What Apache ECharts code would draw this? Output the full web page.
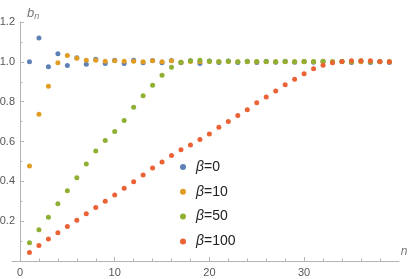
<!DOCTYPE html>
<html>
<head>
<meta charset="utf-8">
<script src="https://cdn.jsdelivr.net/npm/echarts@6/dist/echarts.min.js"></script>
<style>html,body{margin:0;padding:0;background:#fff}#c{width:415px;height:279px}</style>
</head>
<body>
<div id="c"></div>
<script>
var nValues = [];
for (var i = 1; i <= 39; i++) nValues.push(i);
var seriesNames = ['β=0', 'β=10', 'β=50', 'β=100'];
var beta0 = [1.0,1.12,0.975,1.04,0.982,1.02,0.988,1.013,0.992,1.008,0.992,1.008,0.995,1.007,0.996,1.007,0.996,1.005,0.992,1.004,0.997,1.004,0.997,1.003,0.997,1.003,0.998,1.003,0.998,1.002,0.998,1.002,0.998,1.002,0.997,1.002,0.997,1.001,0.997];
var beta10 = [0.477,0.737,0.878,0.995,1.032,1.018,1.008,1.008,1.003,1.006,1.003,1.003,1.0,1.005,1.0,1.005,0.998,1.002,1.0,1.002,1.001,1.002,1.0,1.001,1.0,1.001,1.0,1.001,1.0,1.001,1.0,1.001,1.0,1.001,1.0,1.001,1.0,1.001,1.0];
var beta50 = [0.092,0.157,0.22,0.287,0.353,0.418,0.487,0.552,0.605,0.65,0.705,0.772,0.83,0.882,0.933,0.973,0.998,1.005,1.008,1.003,1.002,1.003,1.0,1.002,1.002,1.002,1.0,1.002,1.0,1.002,1.002,1.003,1.0,1.002,1.0,1.005,1.0,1.002,1.0];
var beta100 = [0.043,0.078,0.11,0.142,0.173,0.205,0.237,0.268,0.3,0.332,0.365,0.398,0.432,0.467,0.497,0.53,0.558,0.583,0.61,0.638,0.671,0.7,0.73,0.76,0.795,0.823,0.853,0.885,0.913,0.94,0.965,0.983,0.995,1.002,1.005,1.005,1.005,1.002,1.0];
var colors = ['#5E81B5', '#E19C24', '#8FB032', '#EB6235'];
var xMajorTicks = [0, 10, 20, 30];
var xMinorTicks = [2,4,6,8,12,14,16,18,22,24,26,28,32,34,36,38];
var allData = [beta0, beta10, beta50, beta100];

function pairs(arr) { return arr.map(function (v, i) { return [nValues[i], v]; }); }

var axisGray = '#b4b4b4';
var labelColor = '#555';
var chart = echarts.init(document.getElementById('c'), null, {renderer: 'canvas'});
chart.setOption({
  animation: false,
  title: {
    text: '{b|b}{s|n}',
    left: 22, top: 1,
    textStyle: {
      fontWeight: 'normal',
      rich: {
        b: {fontFamily: 'Liberation Sans', fontStyle: 'italic', fontWeight: 'normal', fontSize: 13, color: '#777'},
        s: {fontFamily: 'Liberation Sans', fontStyle: 'italic', fontWeight: 'normal', fontSize: 9, color: '#777', verticalAlign: 'bottom', padding: [6, 0, 0, 0]}
      }
    }
  },
  legend: {
    orient: 'vertical',
    left: 175, top: 154,
    itemWidth: 12, itemHeight: 6, itemGap: 8.8,
    icon: 'circle',
    data: seriesNames,
    formatter: function (name) { return '{i|β}' + name.slice(1); },
    textStyle: {
      fontFamily: 'Liberation Sans', fontSize: 14, color: '#222', lineHeight: 16, padding: [0, 0, 0, 2],
      rich: { i: {fontFamily: 'Liberation Sans', fontStyle: 'italic', fontSize: 14, color: '#222'} }
    }
  },
  grid: [
    {left: 20, right: 16.2, top: 22, bottom: 18, containLabel: false, outerBoundsMode: 'none'},
    {left: 12, right: 16.2, top: 22, bottom: 18, containLabel: false, outerBoundsMode: 'none'}
  ],
  xAxis: [{
    gridIndex: 0, type: 'value', min: 0, max: 40,
    name: 'n', nameLocation: 'end', nameGap: 2,
    nameTextStyle: {fontFamily: 'Liberation Sans', fontStyle: 'italic', fontSize: 12, color: '#777', verticalAlign: 'bottom', padding: [0, 0, 3, 0]},
    axisLine: {lineStyle: {color: axisGray, width: 1}},
    axisTick: {inside: true, length: 4, lineStyle: {color: axisGray}, customValues: xMajorTicks},
    axisLabel: {customValues: xMajorTicks, color: labelColor, fontFamily: 'Liberation Sans', fontSize: 11, margin: 6},
    splitLine: {show: false}
  }, {
    gridIndex: 0, type: 'value', min: 0, max: 40, position: 'bottom',
    axisLine: {show: false},
    axisTick: {inside: true, length: 2.5, lineStyle: {color: axisGray}, customValues: xMinorTicks},
    axisLabel: {show: false},
    splitLine: {show: false}
  }, {
    gridIndex: 1, type: 'value', min: -0.85, max: 40, position: 'bottom',
    axisLine: {show: true, lineStyle: {color: axisGray, width: 1}},
    axisTick: {show: false},
    axisLabel: {show: false},
    splitLine: {show: false}
  }],
  yAxis: [{
    gridIndex: 0, type: 'value', min: 0, max: 1.2, interval: 0.2,
    axisLine: {show: true, lineStyle: {color: axisGray, width: 1}},
    axisTick: {show: true, inside: true, length: 4, lineStyle: {color: axisGray}},
    minorTick: {show: true, splitNumber: 2, length: 2.5, lineStyle: {color: axisGray}},
    axisLabel: {
      color: labelColor, fontFamily: 'Liberation Sans', fontSize: 11, margin: 5,
      formatter: function (v) { return v === 0 ? '' : v.toFixed(1); }
    },
    splitLine: {show: false}
  }, {
    gridIndex: 1, type: 'value', min: 0, max: 1.2, show: false
  }],
  series: seriesNames.map(function (name, k) {
    return {
      name: name, type: 'scatter', xAxisIndex: 0, yAxisIndex: 0,
      symbol: 'circle', symbolSize: 5,
      itemStyle: {color: colors[k], opacity: 1},
      data: pairs(allData[k])
    };
  })
});
</script>
</body>
</html>
